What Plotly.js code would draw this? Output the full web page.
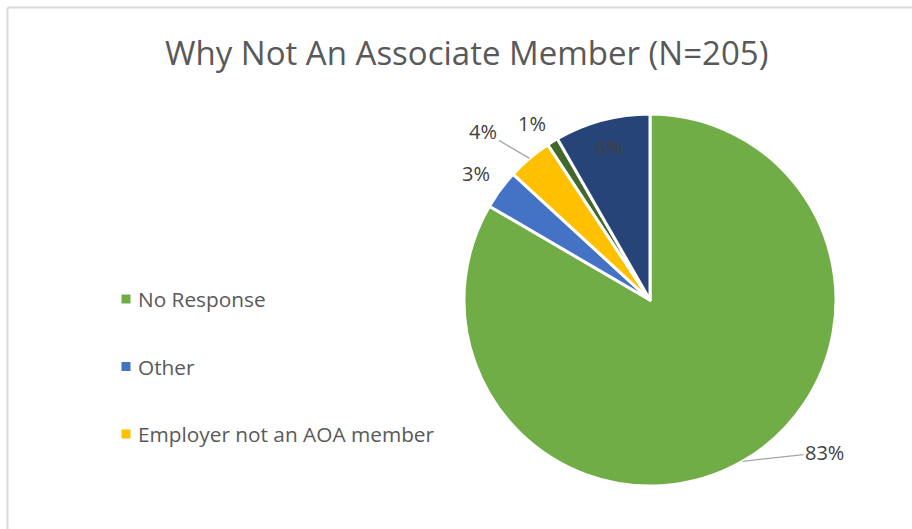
<!DOCTYPE html>
<html>
<head>
<meta charset="utf-8">
<script src="https://cdn.plot.ly/plotly-3.0.1.min.js"></script>
<style>html,body{margin:0;padding:0;background:#fff;}#chart{width:912px;height:529px;}</style>
</head>
<body>
<div id="chart"></div>
<script>
// ---- data ----
const chartTitle = 'Why Not An Associate Member (N=205)';
const categories = ['No Response', 'Other', 'Employer not an AOA member', 'Not eligible', 'Already a member'];
const counts = [171, 7, 8, 2, 17];
const sliceColors = ['#70AD47', '#4472C4', '#FFC000', '#43682B', '#264478'];
const legendCount = 3; // only first three categories appear in legend

// ---- layout helpers ----
const W = 912, H = 529;
const CX = 650, CY = 300, R = 186;
const FONT = '"Open Sans", sans-serif';
const total = counts.reduce((a, b) => a + b, 0);
const pct = counts.map(v => Math.round(v / total * 100) + '%');

// mid-angle of each slice (clockwise from 12 o'clock), degrees
const midAngles = [];
let acc = 0;
counts.forEach(v => { midAngles.push((acc + v / 2) / total * 360); acc += v; });

function pt(angleDeg, rad) {
  const a = angleDeg * Math.PI / 180;
  return [CX + rad * Math.sin(a), CY - rad * Math.cos(a)];
}
const toPaper = p => [p[0] / W, 1 - p[1] / H];

// label placement: radius factor, pixel offset, leader line
const labelPlace = [
  {f: 1.0, ax: 82, ay: -9, line: true},
  {f: 1.0, ax: -24, ay: -16, line: false},
  {f: 1.0, ax: -46, ay: -27, line: true},
  {f: 1.0, ax: -21, ay: -18, line: false},
  {f: 0.85, ax: 0, ay: 0, line: false}
];

const annotations = [];
annotations.push({
  text: chartTitle, xref: 'paper', yref: 'paper', x: 466 / W, y: 1 - 52 / H,
  xanchor: 'center', yanchor: 'middle', showarrow: false,
  font: {family: FONT, size: 33, color: '#595959'}
});

counts.forEach((v, i) => {
  const lp = labelPlace[i];
  const p = toPaper(pt(midAngles[i], R * lp.f));
  annotations.push({
    text: pct[i], xref: 'paper', yref: 'paper', x: p[0], y: p[1],
    ax: lp.ax, ay: lp.ay, axref: 'pixel', ayref: 'pixel',
    showarrow: true, arrowhead: 0, arrowwidth: 1.3,
    arrowcolor: lp.line ? '#A6A6A6' : 'rgba(0,0,0,0)',
    standoff: 0, startstandoff: 0,
    font: {family: FONT, size: 20, color: '#404040'}
  });
});

// custom legend (only first items)
const shapes = [];
const legendX = 126, legendY0 = 299, legendStep = 67.5, sq = 9;
for (let i = 0; i < legendCount; i++) {
  const y = legendY0 + i * legendStep;
  shapes.push({
    type: 'rect', xref: 'paper', yref: 'paper',
    x0: (legendX - sq / 2) / W, x1: (legendX + sq / 2) / W,
    y0: 1 - (y + sq / 2) / H, y1: 1 - (y - sq / 2) / H,
    fillcolor: sliceColors[i], line: {width: 0}
  });
  annotations.push({
    text: categories[i], xref: 'paper', yref: 'paper', x: 136 / W, y: 1 - y / H,
    xanchor: 'left', yanchor: 'middle', showarrow: false,
    font: {family: FONT, size: 20.8, color: '#595959'}
  });
}

// chart-area border (top and left visible)
shapes.push({type: 'line', xref: 'paper', yref: 'paper', x0: 7.5 / W, x1: 7.5 / W, y0: 0, y1: 1 - 7.5 / H, line: {color: '#D9D9D9', width: 2}});
shapes.push({type: 'line', xref: 'paper', yref: 'paper', x0: 7.5 / W, x1: 1, y0: 1 - 7.5 / H, y1: 1 - 7.5 / H, line: {color: '#D9D9D9', width: 2}});

const trace = {
  type: 'pie',
  labels: categories,
  values: counts,
  sort: false,
  direction: 'clockwise',
  rotation: 0,
  textinfo: 'none',
  hoverinfo: 'label+percent',
  showlegend: false,
  marker: {colors: sliceColors, line: {color: '#FFFFFF', width: 3}},
  domain: {x: [(CX - R) / W, (CX + R) / W], y: [1 - (CY + R) / H, 1 - (CY - R) / H]}
};

const layout = {
  width: W, height: H,
  margin: {l: 0, r: 0, t: 0, b: 0},
  paper_bgcolor: '#FFFFFF',
  showlegend: false,
  annotations: annotations,
  shapes: shapes
};

Plotly.newPlot('chart', [trace], layout, {displayModeBar: false, staticPlot: true});
</script>
</body>
</html>
